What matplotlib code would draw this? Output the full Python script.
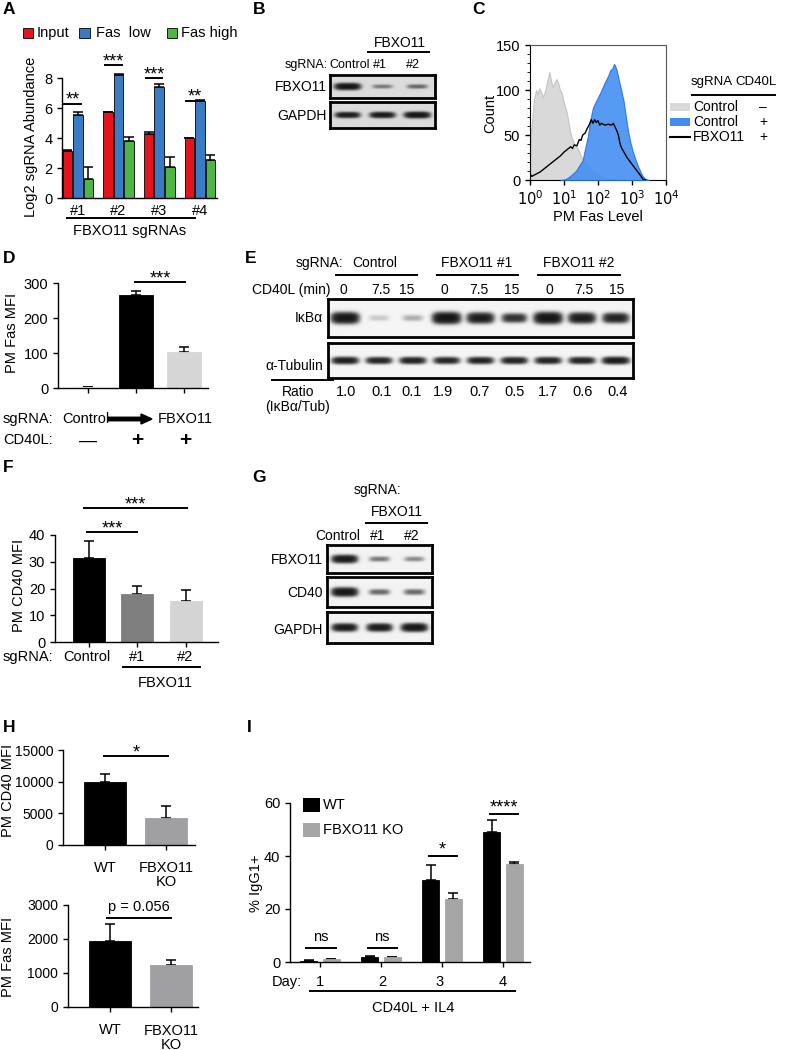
import numpy as np
import matplotlib
matplotlib.use('Agg')
import matplotlib.pyplot as plt
from matplotlib.patches import Rectangle, FancyArrow
from matplotlib.lines import Line2D

plt.rcParams['font.family'] = ['Liberation Sans', 'DejaVu Sans']
plt.rcParams['axes.linewidth'] = 1.0
plt.rcParams['xtick.major.width'] = 1.0
plt.rcParams['ytick.major.width'] = 1.0
plt.rcParams['xtick.major.size'] = 3.5
plt.rcParams['ytick.major.size'] = 3.5
plt.rcParams['xtick.labelsize'] = 10.5
plt.rcParams['ytick.labelsize'] = 10.5

# ---------------- DATA ----------------
# Panel A
A_guides = ['#1', '#2', '#3', '#4']
A_series = ['Input', 'Fas  low', 'Fas high']
A_colors = ['#e3141b', '#3a7bc4', '#4fb646']
A_input = [3.15, 5.72, 4.30, 3.97]
A_input_err = [0.03, 0.03, 0.12, 0.03]
A_low = [5.55, 8.20, 7.40, 6.50]
A_low_err = [0.20, 0.10, 0.22, 0.02]
A_high = [1.30, 3.80, 2.05, 2.55]
A_high_err = [0.75, 0.30, 0.68, 0.35]
A_sig = ['**', '***', '***', '**']
A_sig_y = [6.3, 8.87, 8.0, 6.5]

# Panel B (western blot band intensities, 0-1)
B_lanes = ['Control', '#1', '#2']
B_rows = ['FBXO11', 'GAPDH']
B_fbxo11 = [0.95, 0.22, 0.28]
B_gapdh = [0.80, 0.85, 0.95]

# Panel C (flow histograms: log10 PM Fas level, count)
C_grey_lx = [0.0, 0.01, 0.05, 0.12, 0.18, 0.22, 0.27, 0.33, 0.38, 0.45, 0.52, 0.57, 0.62, 0.67,
             0.72, 0.78, 0.83, 0.88, 0.93, 1.0, 1.08, 1.15, 1.2, 1.3, 1.4, 1.5, 1.57, 1.65, 1.72,
             1.8, 1.9, 2.0, 2.1, 2.25, 2.5, 2.8]
C_grey_ct = [0, 45, 60, 90, 100, 95, 102, 97, 92, 100, 112, 120, 110, 103,
             108, 112, 108, 100, 97, 85, 75, 60, 50, 40, 35, 27, 22, 18, 15,
             12, 8, 6, 4, 1.5, 0.5, 0]
C_blue_lx = [0.9, 1.0, 1.1, 1.2, 1.35, 1.45, 1.55, 1.62, 1.7, 1.78, 1.85, 1.92, 2.0, 2.08, 2.15,
             2.22, 2.3, 2.36, 2.42, 2.47, 2.5, 2.55, 2.6, 2.68, 2.75, 2.82, 2.88, 2.95, 3.02,
             3.1, 3.18, 3.25, 3.32, 3.4, 3.5]
C_blue_ct = [0, 0.5, 2, 5, 10, 16, 22, 35, 48, 68, 80, 86, 92, 98, 104,
             110, 116, 122, 124, 129, 127, 122, 113, 100, 88, 70, 55, 42, 32,
             23, 15, 9, 4, 1, 0]
C_black_lx = [0.0, 0.05, 0.1, 0.2, 0.3, 0.4, 0.5, 0.6, 0.7, 0.8, 0.9, 1.0, 1.1, 1.2, 1.25, 1.3,
              1.38, 1.45, 1.5, 1.55, 1.62, 1.68, 1.75, 1.8, 1.85, 1.9, 1.95, 2.0, 2.05, 2.1,
              2.2, 2.3, 2.4, 2.45, 2.5, 2.55, 2.6, 2.65, 2.7, 2.78, 2.85, 2.95, 3.05, 3.15,
              3.25, 3.32, 3.4]
C_black_ct = [7, 4, 5, 7, 9, 12, 15, 18, 21, 24, 27, 31, 34, 37, 35, 39,
              38, 45, 44, 50, 52, 57, 62, 67, 63, 67, 64, 66, 61, 63,
              61, 62, 61, 63, 59, 55, 50, 40, 35, 30, 25, 20, 15, 10,
              5, 1, 0]
C_legend = [('Control', '–'), ('Control', '+'), ('FBXO11', '+')]

# Panel D
D_values = [2, 265, 103]
D_err = [2, 12, 14]
D_colors = ['#ffffff', '#000000', '#d6d6d6']
D_cd40l = ['—', '+', '+']

# Panel E
E_groups = ['Control', 'FBXO11 #1', 'FBXO11 #2']
E_times = ['0', '7.5', '15', '0', '7.5', '15', '0', '7.5', '15']
E_ratio = ['1.0', '0.1', '0.1', '1.9', '0.7', '0.5', '1.7', '0.6', '0.4']
E_ikba = [0.95, 0.07, 0.12, 1.0, 0.85, 0.6, 1.0, 0.85, 0.75]
E_tub = [0.8, 0.72, 0.75, 0.72, 0.75, 0.75, 0.75, 0.75, 0.85]

# Panel F
F_labels = ['Control', '#1', '#2']
F_values = [31.5, 18.0, 15.5]
F_err = [6.3, 3.1, 3.9]
F_colors = ['#000000', '#7f7f7f', '#d4d4d4']

# Panel G
G_lanes = ['Control', '#1', '#2']
G_fbxo11 = [0.9, 0.25, 0.2]
G_cd40 = [0.95, 0.3, 0.3]
G_gapdh = [0.85, 0.85, 0.95]

# Panel H
H_labels = ['WT', 'FBXO11\nKO']
H_cd40 = [9900, 4300]
H_cd40_err = [1300, 1850]
H_fas = [1950, 1250]
H_fas_err = [480, 130]
H_colors = ['#000000', '#a0a0a2']

# Panel I
I_days = ['1', '2', '3', '4']
I_wt = [0.5, 2.0, 30.8, 49.2]
I_wt_err = [0.15, 0.3, 5.8, 4.5]
I_ko = [1.0, 1.8, 23.8, 37.0]
I_ko_err = [0.2, 0.2, 2.2, 0.7]
I_sig = ['ns', 'ns', '*', '****']
I_sig_y = [5.3, 5.3, 40, 56]
I_colors = ['#000000', '#a6a6a6']

# ---------------- HELPERS ----------------
W, H = 788, 1050
fig = plt.figure(figsize=(W / 100, H / 100), dpi=100)


def ax_at(x0, y0, x1, y1):
    return fig.add_axes([x0 / W, 1 - y1 / H, (x1 - x0) / W, (y1 - y0) / H])


def T(x, y, s, size=10.5, ha='center', va='center', **kw):
    fig.text(x / W, 1 - y / H, s, fontsize=size, ha=ha, va=va, **kw)


def L(x0, x1, y, lw=1.4):
    fig.add_artist(Line2D([x0 / W, x1 / W], [1 - y / H, 1 - y / H], color='k', lw=lw))


def R(x0, y0, x1, y1, color, **kw):
    fig.add_artist(Rectangle((x0 / W, 1 - y1 / H), (x1 - x0) / W, (y1 - y0) / H,
                             transform=fig.transFigure, facecolor=color, **kw))


def style(ax, left_bounds=None):
    ax.spines['top'].set_visible(False)
    ax.spines['right'].set_visible(False)
    if left_bounds is not None:
        ax.spines['left'].set_bounds(*left_bounds)
    ax.tick_params(direction='out')


def sig(ax, x0, x1, y, txt, off=1.0, size=12, va='baseline'):
    ax.plot([x0, x1], [y, y], color='k', lw=1.4, clip_on=False)
    ax.annotate(txt, xy=((x0 + x1) / 2, y), xytext=(0, off), textcoords='offset points',
                ha='center', va=va, fontsize=size, annotation_clip=False)


def ybar(ax, x, vals, errs, w, colors, ec=None):
    ax.bar(x, vals, w, color=colors, edgecolor=ec if ec else colors, lw=0.6, zorder=2)
    ax.errorbar(x, vals, yerr=[np.zeros(len(vals)), errs], fmt='none', ecolor='k',
                elinewidth=1.1, capsize=3.5, capthick=1.1, zorder=1)


def blot(x0, y0, x1, y1, vals, bg=0.93, bw=0.30, bh=0.11):
    ax = ax_at(x0, y0, x1, y1)
    n = len(vals)
    xs = np.linspace(-0.5, n - 0.5, 60 * n)
    ys = np.linspace(-0.5, 0.5, 80)
    X, Y = np.meshgrid(xs, ys)
    dark = np.zeros_like(X)
    for i, v in enumerate(vals):
        wx = bw * (0.85 + 0.3 * v)
        wy = bh * (0.6 + 0.5 * v)
        prof = np.exp(-np.abs((X - i) / wx) ** 4) * np.exp(-np.abs(Y / wy) ** 2.4)
        dark += 3.0 * v * prof
    img = bg - (bg - 0.04) * (1 - np.exp(-dark))
    ax.imshow(img, cmap='gray', vmin=0, vmax=1, extent=(-0.5, n - 0.5, -0.5, 0.5),
              aspect='auto', interpolation='bilinear')
    ax.set_xticks([])
    ax.set_yticks([])
    for s in ax.spines.values():
        s.set_linewidth(2.0)
    return ax


# ---------------- PANEL LETTERS ----------------
for lab, x, y in [('A', 3, 10), ('B', 253, 10), ('C', 472, 10), ('D', 3, 258), ('E', 245, 258),
                  ('F', 3, 468), ('G', 252, 478), ('H', 3, 727), ('I', 247, 727)]:
    T(x, y, lab, size=12.5, ha='left', fontweight='bold')

# ---------------- PANEL A ----------------
axA = ax_at(62, 70.5, 217, 198)
offs = [-0.26, 0.0, 0.26]
gx = np.arange(len(A_guides))
for k, (vals, errs) in enumerate([(A_input, A_input_err), (A_low, A_low_err), (A_high, A_high_err)]):
    ybar(axA, gx + offs[k], vals, errs, 0.235, A_colors[k], ec='k')
axA.set_ylim(0, 8.5)
axA.set_xlim(-0.39, 3.42)
style(axA, (0, 8))
axA.set_yticks([0, 2, 4, 6, 8])
axA.set_xticks(gx)
axA.set_xticklabels(A_guides)
axA.tick_params(axis='x', length=0, pad=4)
for g, s, y in zip(gx, A_sig, A_sig_y):
    sig(axA, g - 0.33, g + 0.08, y, s, off=-1, size=13)
T(31, 137, 'Log2 sgRNA Abundance', size=10.5, rotation=90)
L(67, 195, 218)
T(130, 231, 'FBXO11 sgRNAs', size=10.5)
leg_x = [(23, 33, 37), (79, 90, 96), (167, 177, 181)]
for (p0, p1, tx), name, col in zip(leg_x, A_series, A_colors):
    R(p0, 28, p1, 38, col, edgecolor='k', lw=0.6)
    T(tx, 33, name, size=10.5, ha='left')

# ---------------- PANEL B ----------------
blot(330, 75, 435, 98, B_fbxo11, bg=0.86, bh=0.12)
blot(330, 102, 435, 128, B_gapdh, bg=0.86, bh=0.10)
T(400, 43, 'FBXO11', size=10)
L(368, 429, 52)
T(328, 65, 'sgRNA:', size=9, ha='right')
for x, s in zip([350, 380, 413], B_lanes):
    T(x, 65, s, size=9)
T(327, 87, B_rows[0], size=10, ha='right')
T(327, 116, B_rows[1], size=10, ha='right')

# ---------------- PANEL C ----------------
axC = ax_at(530, 45, 666, 180)
axC.fill_between(10 ** np.array(C_grey_lx), C_grey_ct, color='#d9d9d9', lw=0.8,
                 edgecolor='#c4c4c4', zorder=2)
axC.fill_between(10 ** np.array(C_blue_lx), C_blue_ct, color='#3f8cf2', lw=0.8,
                 edgecolor='#1f6fe8', alpha=0.88, zorder=3)
axC.plot(10 ** np.array(C_black_lx), C_black_ct, color='k', lw=1.0, zorder=4)
axC.set_xscale('log')
axC.set_xlim(1, 1e4)
axC.set_ylim(0, 150)
axC.set_yticks([0, 50, 100, 150])
axC.set_yticks(np.arange(0, 151, 10), minor=True)
axC.set_xticks([1, 10, 100, 1000, 10000])
axC.set_xticklabels([r'$10^{%d}$' % i for i in range(5)])
axC.tick_params(labelsize=10.5)
for s in axC.spines.values():
    s.set_color('#555555')
    s.set_linewidth(0.8)
axC.spines['left'].set_color('k')
axC.spines['bottom'].set_color('k')
T(490, 113, 'Count', size=10.5, rotation=90)
T(598, 217, 'PM Fas Level', size=10.5)
T(691, 82, 'sgRNA', size=9.5, ha='left')
T(777, 82, 'CD40L', size=9.5, ha='right')
L(692, 775, 95)
ent_y = [107, 122, 137]
for (name, sgn), y, k in zip(C_legend, ent_y, range(3)):
    if k == 0:
        R(670, y - 4, 690, y + 4, '#d9d9d9')
    elif k == 1:
        R(670, y - 4, 690, y + 4, '#3f8cf2')
    else:
        L(670, 690, y, lw=1.5)
    T(693, y, name, size=10, ha='left')
    T(763, y, sgn, size=10)

# ---------------- PANEL D ----------------
axD = ax_at(58, 283, 208, 388)
dx = np.arange(3)
ybar(axD, dx, D_values, D_err, 0.69, D_colors)
axD.bar(dx[0], D_values[0], 0.69, color='none', edgecolor='#999999', lw=0.6)
axD.set_ylim(0, 300)
axD.set_xlim(-0.625, 2.5)
style(axD)
axD.set_yticks([0, 100, 200, 300])
axD.set_xticks(dx)
axD.set_xticklabels([])
sig(axD, 0.98, 2.02, 302, '***', off=-1, size=13)
T(12, 333, 'PM Fas MFI', size=10.5, rotation=90)
T(3, 419, 'sgRNA:', size=10.5, ha='left')
T(3, 440, 'CD40L:', size=10.5, ha='left')
T(86, 419, 'Control', size=10.5)
fig.add_artist(FancyArrow(108 / W, 1 - 419 / H, 33 / W, 0, width=3.5 / H,
                          head_width=10 / H, head_length=11 / W,
                          length_includes_head=False, color='k',
                          transform=fig.transFigure))
T(185, 419, 'FBXO11', size=10.5)
for x, s in zip([88, 137, 185], D_cd40l):
    T(x, 441, s, size=15 if s == '+' else 13, fontweight='bold' if s == '+' else 'normal')

# ---------------- PANEL E ----------------
blot(328, 299, 633, 337, E_ikba, bg=0.96, bw=0.33, bh=0.12)
blot(328, 343, 633, 378, E_tub, bg=0.96, bw=0.33, bh=0.09)
T(343, 263, 'sgRNA:', size=10, ha='right')
for x, (l0, l1), s in zip([375, 477, 579], [(336, 417), (437, 518), (538, 620)], E_groups):
    T(x, 263, s, size=10)
    L(l0, l1, 275)
T(331, 290, 'CD40L (min)', size=10, ha='right')
lane_x = [343, 381, 407, 444, 479, 512, 549, 584, 617]
for x, s in zip(lane_x, E_times):
    T(x, 290, s, size=10)
T(323, 318, 'IκBα', size=10, ha='right')
T(323, 366, 'α-Tubulin', size=10, ha='right')
L(272, 333, 380)
ratio_x = [346, 382, 412, 443, 480, 515, 548, 583, 618]
for x, s in zip(ratio_x, E_ratio):
    T(x, 392, s, size=10.5)
T(298, 392, 'Ratio', size=10)
T(298, 407, '(IκBα/Tub)', size=10)

# ---------------- PANEL F ----------------
axF = ax_at(55, 535, 218, 642)
fx_ = np.arange(3)
ybar(axF, fx_, F_values, F_err, 0.66, F_colors)
axF.set_ylim(0, 40)
axF.set_xlim(-0.70, 2.66)
style(axF)
axF.set_yticks([0, 10, 20, 30, 40])
axF.set_xticks(fx_)
axF.set_xticklabels([])
sig(axF, -0.05, 1.0, 41.1, '***', off=-1, size=13)
sig(axF, -0.1, 2.02, 50.1, '***', off=-1, size=13)
T(19, 585, 'PM CD40 MFI', size=10.5, rotation=90)
T(3, 657, 'sgRNA:', size=10.5, ha='left')
for x, s in zip([87, 137, 185], F_labels):
    T(x, 657, s, size=10.5)
L(123, 200, 667)
T(165, 683, 'FBXO11', size=10.5)

# ---------------- PANEL G ----------------
blot(327, 545, 432, 573, G_fbxo11, bg=0.95, bh=0.12)
blot(327, 577, 432, 607, G_cd40, bg=0.95, bh=0.12)
blot(327, 612, 432, 643, G_gapdh, bg=0.95, bh=0.11)
T(377, 490, 'sgRNA:', size=10)
T(397, 512, 'FBXO11', size=10)
L(366, 427, 523)
for x, s in zip([338, 378, 412], G_lanes):
    T(x, 536, s, size=10)
T(323, 560, 'FBXO11', size=10, ha='right')
T(323, 593, 'CD40', size=10, ha='right')
T(323, 630, 'GAPDH', size=10, ha='right')

# ---------------- PANEL H ----------------
axH1 = ax_at(63, 750, 195, 845)
hx = np.arange(2)
ybar(axH1, hx, H_cd40, H_cd40_err, 0.70, H_colors)
axH1.set_ylim(0, 15000)
axH1.set_xlim(-0.69, 1.475)
style(axH1)
axH1.set_yticks([0, 5000, 10000, 15000])
axH1.set_xticks(hx)
axH1.set_xticklabels([])
axH1.tick_params(labelsize=10)
sig(axH1, -0.02, 1.03, 14000, '*', off=-1, size=13)
T(8, 790, 'PM CD40 MFI', size=10.5, rotation=90)
T(105, 868, H_labels[0], size=10.5)
T(166, 875, H_labels[1], size=10.5, linespacing=0.95)

axH2 = ax_at(68, 905, 198, 1007)
ybar(axH2, hx, H_fas, H_fas_err, 0.69, H_colors)
axH2.set_ylim(0, 3000)
axH2.set_xlim(-0.69, 1.44)
style(axH2)
axH2.set_yticks([0, 1000, 2000, 3000])
axH2.set_xticks(hx)
axH2.set_xticklabels([])
axH2.tick_params(labelsize=10)
sig(axH2, -0.05, 1.0, 2620, 'p = 0.056', off=2.5, size=10.5, va='bottom')
T(8, 957, 'PM Fas MFI', size=10.5, rotation=90)
T(110, 1030, H_labels[0], size=10.5)
T(171, 1038, H_labels[1], size=10.5, linespacing=0.95)

# ---------------- PANEL I ----------------
axI = ax_at(290, 803, 530, 962)
ix = np.arange(4)
ybar(axI, ix - 0.185, I_wt, I_wt_err, 0.275, I_colors[0])
ybar(axI, ix + 0.185, I_ko, I_ko_err, 0.275, I_colors[1])
axI.set_ylim(0, 60)
axI.set_xlim(-0.49, 3.44)
style(axI)
axI.set_yticks([0, 20, 40, 60])
axI.set_xticks(ix)
axI.set_xticklabels([])
for g, s, y in zip(ix, I_sig, I_sig_y):
    if s == 'ns':
        sig(axI, g - 0.22, g + 0.26, y, s, off=2.5, size=10.5, va='bottom')
    else:
        sig(axI, g - 0.22, g + 0.24, y, s, off=1, size=13)
T(256, 883, '% IgG1+', size=10.5, rotation=90)
R(303, 798, 320, 812, I_colors[0])
T(323, 805, 'WT', size=10.5, ha='left')
R(303, 823, 320, 837, I_colors[1])
T(323, 830, 'FBXO11 KO', size=10.5, ha='left')
T(272, 982, 'Day:', size=10.5, ha='left')
for x, s in zip([320, 382, 440, 503], I_days):
    T(x, 982, s, size=10.5)
L(310, 515, 991)
T(413, 1008, 'CD40L + IL4', size=10.5)

fig.savefig('out.png', dpi=100)
